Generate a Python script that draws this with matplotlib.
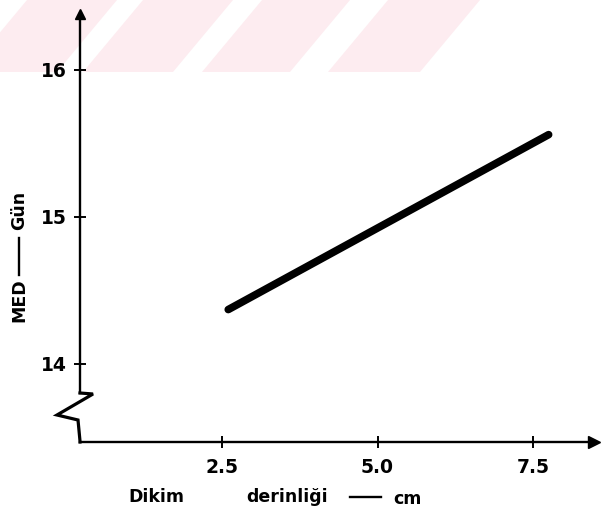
"""
MED (gun) vs dikim derinligi (cm) - scanned figure recreation
"""
import matplotlib
matplotlib.use("Agg")
import matplotlib.pyplot as plt
from matplotlib.patches import Polygon

# ======================================================
# data
# ======================================================
depth = [2.6, 7.75]          # cm
med = [14.37, 15.56]         # gun

x_ticks = [2.5, 5.0, 7.5]
x_tick_labels = ["2.5", "5.0", "7.5"]
y_ticks = [14, 15, 16]
y_tick_labels = ["14", "15", "16"]

W, H = 604, 520
FONT = "DejaVu Sans"

fig = plt.figure(figsize=(W / 100, H / 100), dpi=100)
fig.patch.set_facecolor("white")

# pixel axes for the hand drawn bits (watermark, axis lines, break)
bg = fig.add_axes([0, 0, 1, 1])
bg.set_xlim(0, W)
bg.set_ylim(H, 0)
bg.axis("off")

# watermark stripes across the top
pink = "#fdecf0"
for x0, x1 in [(27, 117), (143, 233), (262, 350), (388, 480)]:
    bg.add_patch(Polygon([(x0, 0), (x1, 0), (x1 - 60, 72), (x0 - 60, 72)],
                         closed=True, color=pink, lw=0, zorder=0))

# axes lines with the broken y axis
ax_x, ax_y = 80, 442
bg.plot([ax_x, ax_x], [393, 14], color="black", lw=1.7, zorder=3)
bg.plot([ax_x, 93, 57, 78, 80, ax_x], [393, 394, 415, 420, 441, ax_y],
        color="black", lw=2.3, solid_joinstyle="miter", zorder=3)
bg.plot([ax_x, 590], [ax_y, ax_y], color="black", lw=1.7, zorder=3)
bg.plot([ax_x], [14], marker="^", ms=7, color="black", zorder=4)
bg.plot([594], [ax_y], marker=">", ms=8, color="black", zorder=4)

# axis titles
lab_kw = dict(fontsize=12.5, fontweight="bold", family=FONT,
              ha="center", va="center")
bg.text(156, 497, "Dikim", **lab_kw)
bg.text(287, 497, "derinliği", **lab_kw)
bg.plot([350, 381], [497, 497], color="black", lw=1.7)
bg.text(407, 499, "cm", **lab_kw)
bg.text(19, 300, "MED", rotation=90, **lab_kw)
bg.plot([19, 19], [238, 275], color="black", lw=1.7)
bg.text(19, 210, "Gün", rotation=90, **lab_kw)

# data axes placed so that its left/bottom edges sit on the drawn axes
ax = fig.add_axes([ax_x / W, (H - ax_y) / H, (W - ax_x) / W, ax_y / H])
ax.patch.set_alpha(0)
for s in ax.spines.values():
    s.set_visible(False)
ax.set_xlim(0.217, 8.64)
ax.set_ylim(13.469, 16.476)

ax.plot(depth, med, color="black", lw=5.5, solid_capstyle="round", zorder=5)

ax.set_xticks(x_ticks)
ax.set_xticklabels(x_tick_labels)
ax.set_yticks(y_ticks)
ax.set_yticklabels(y_tick_labels)
ax.tick_params(axis="both", direction="inout", length=9, width=1.4,
               color="black", labelsize=13.5)
ax.tick_params(axis="x", pad=7)
ax.tick_params(axis="y", pad=5)
for lab in ax.get_xticklabels() + ax.get_yticklabels():
    lab.set_fontweight("bold")
    lab.set_family(FONT)

fig.savefig("out.png", dpi=100)
